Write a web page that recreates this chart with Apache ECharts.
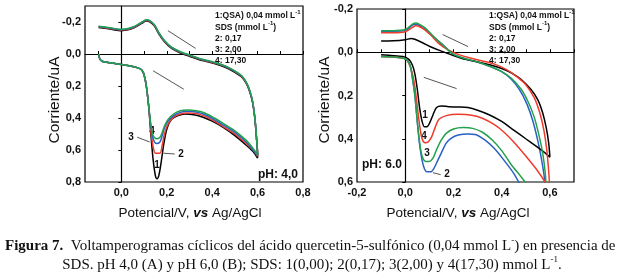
<!DOCTYPE html>
<html><head><meta charset="utf-8">
<script src="https://cdn.jsdelivr.net/npm/echarts@6/dist/echarts.min.js"></script>
<style>html,body{margin:0;padding:0;background:#fff}#c{width:625px;height:276px}</style>
</head><body><div id="c"></div>
<script>
// ---------- DATA (Potential V, Current uA) ----------
// Panel A, pH 4,0 : forward (lower) branches
const A_fwd_start = [[-0.1,0.0],[-0.095,0.03],[-0.085,0.045],[-0.05,0.055],[0.0,0.065],[0.04,0.075],[0.07,0.085],[0.09,0.10],[0.10,0.13],[0.11,0.2],[0.12,0.32]];
const A1_fwd = [[0.13,0.5],[0.14,0.66],[0.15,0.76],[0.157,0.78],[0.165,0.76],[0.175,0.68],[0.185,0.58],[0.2,0.47],[0.22,0.41],[0.25,0.385],[0.28,0.375],[0.32,0.38],[0.36,0.395],[0.40,0.42],[0.45,0.46],[0.50,0.51],[0.55,0.57],[0.58,0.61],[0.60,0.65]];
const A2_fwd = [[0.13,0.48],[0.14,0.58],[0.15,0.62],[0.17,0.62],[0.18,0.57],[0.19,0.5],[0.205,0.44],[0.23,0.395],[0.26,0.375],[0.29,0.368],[0.33,0.372],[0.37,0.39],[0.41,0.42],[0.45,0.455],[0.50,0.5],[0.55,0.56],[0.58,0.6],[0.60,0.64]];
const A3_fwd = [[0.13,0.45],[0.14,0.53],[0.155,0.56],[0.17,0.55],[0.18,0.51],[0.19,0.46],[0.205,0.42],[0.23,0.385],[0.26,0.365],[0.29,0.358],[0.33,0.362],[0.37,0.38],[0.41,0.41],[0.45,0.445],[0.5,0.49],[0.55,0.55],[0.58,0.6],[0.6,0.635]];
const A4_fwd = [[0.13,0.44],[0.14,0.51],[0.155,0.53],[0.17,0.52],[0.18,0.49],[0.19,0.45],[0.205,0.41],[0.23,0.375],[0.26,0.355],[0.29,0.35],[0.33,0.355],[0.37,0.37],[0.41,0.4],[0.45,0.435],[0.5,0.48],[0.55,0.54],[0.58,0.59],[0.6,0.63]];
// Panel A : reverse (upper) branch, common to the four curves
const A_rev = [[0.600,0.63],[0.595,0.52],[0.588,0.40],[0.578,0.30],[0.565,0.23],[0.55,0.18],[0.53,0.14],[0.50,0.11],[0.46,0.08],[0.42,0.06],[0.38,0.045],[0.34,0.03],[0.30,0.01],[0.26,-0.01],[0.22,-0.04],[0.19,-0.08],[0.165,-0.13],[0.145,-0.18],[0.125,-0.205],[0.11,-0.21],[0.09,-0.195],[0.06,-0.17],[0.03,-0.155],[0.0,-0.15],[-0.05,-0.16],[-0.1,-0.17]];

// Panel B, pH 6.0
const B1 = [[-0.1,0.012],[-0.06,0.015],[-0.01,0.02],[0.015,0.033],[0.03,0.06],[0.04,0.1],[0.05,0.17],[0.06,0.26],[0.07,0.32],[0.08,0.345],[0.09,0.345],[0.1,0.33],[0.115,0.29],[0.13,0.255],[0.15,0.248],[0.18,0.252],[0.22,0.253],[0.26,0.256],[0.3,0.268],[0.35,0.29],[0.4,0.32],[0.45,0.36],[0.5,0.4],[0.55,0.44],[0.58,0.465],[0.6,0.485],
  [0.595,0.42],[0.585,0.35],[0.57,0.28],[0.55,0.22],[0.52,0.17],[0.48,0.125],[0.44,0.095],[0.4,0.075],[0.35,0.058],[0.3,0.045],[0.25,0.033],[0.2,0.015],[0.15,-0.005],[0.1,-0.028],[0.07,-0.045],[0.04,-0.06],[0.025,-0.064],[0.0,-0.058],[-0.05,-0.053],[-0.1,-0.052]];
const B_red = [[-0.1,0.02],[-0.05,0.022],[0.0,0.03],[0.015,0.05],[0.03,0.1],[0.04,0.16],[0.05,0.25],[0.06,0.34],[0.07,0.4],[0.082,0.418],[0.095,0.415],[0.11,0.39],[0.125,0.345],[0.14,0.31],[0.17,0.293],[0.22,0.287],[0.27,0.29],[0.32,0.305],[0.37,0.335],[0.41,0.37],[0.45,0.415],[0.5,0.48],[0.55,0.55],[0.58,0.6],[0.6,0.64],
  [0.6,0.64],[0.595,0.55],[0.587,0.45],[0.575,0.36],[0.558,0.28],[0.535,0.21],[0.5,0.15],[0.46,0.11],[0.42,0.08],[0.37,0.055],[0.32,0.04],[0.27,0.027],[0.22,0.01],[0.18,-0.01],[0.14,-0.04],[0.11,-0.075],[0.08,-0.105],[0.06,-0.118],[0.044,-0.122],[0.03,-0.115],[0.0,-0.095],[-0.05,-0.09],[-0.1,-0.09]];
const B_green = [[-0.1,0.02],[-0.05,0.022],[0.0,0.03],[0.02,0.06],[0.03,0.12],[0.04,0.2],[0.05,0.32],[0.06,0.42],[0.07,0.48],[0.085,0.505],[0.1,0.505],[0.115,0.49],[0.13,0.45],[0.15,0.405],[0.17,0.375],[0.2,0.355],[0.24,0.348],[0.28,0.352],[0.32,0.37],[0.36,0.405],[0.4,0.455],[0.44,0.52],[0.48,0.575],[0.51,0.62],[0.53,0.66],
  [0.58,0.66],[0.583,0.6],[0.572,0.48],[0.556,0.39],[0.535,0.3],[0.51,0.23],[0.48,0.17],[0.44,0.12],[0.4,0.09],[0.35,0.065],[0.3,0.045],[0.25,0.03],[0.2,0.01],[0.16,-0.03],[0.12,-0.07],[0.09,-0.105],[0.065,-0.125],[0.045,-0.135],[0.03,-0.13],[0.0,-0.105],[-0.05,-0.1],[-0.1,-0.1]];
const B_blue = [[-0.1,0.02],[-0.05,0.022],[0.0,0.03],[0.02,0.06],[0.03,0.12],[0.04,0.2],[0.05,0.32],[0.06,0.43],[0.07,0.5],[0.08,0.54],[0.09,0.553],[0.105,0.553],[0.12,0.535],[0.135,0.5],[0.15,0.465],[0.17,0.42],[0.19,0.398],[0.22,0.383],[0.26,0.378],[0.29,0.38],[0.33,0.405],[0.37,0.445],[0.41,0.5],[0.45,0.56],[0.48,0.62],[0.5,0.66],
  [0.575,0.66],[0.578,0.6],[0.566,0.5],[0.55,0.41],[0.53,0.32],[0.505,0.24],[0.475,0.175],[0.44,0.125],[0.4,0.09],[0.35,0.065],[0.3,0.045],[0.25,0.03],[0.2,0.01],[0.16,-0.03],[0.12,-0.068],[0.09,-0.1],[0.065,-0.12],[0.045,-0.13],[0.03,-0.125],[0.0,-0.1],[-0.05,-0.097],[-0.1,-0.097]];

// tick labels
const A_xLabels = [0.0,0.2,0.4,0.6,0.8];
const A_xTicks = [-0.1,0.0,0.1,0.2,0.3,0.4,0.5,0.6,0.7,0.8];
const A_yLabels = [-0.2,0.0,0.2,0.4,0.6,0.8];
const B_xLabels = [-0.2,0.0,0.2,0.4,0.6];
const B_xTicks = [-0.2,-0.1,0.0,0.1,0.2,0.3,0.4,0.5,0.6,0.7];
const B_yLabels = [-0.2,0.0,0.2,0.4,0.6];

// arrows (data coords)
const A_arrows = [[[0.327,-0.035],[0.205,-0.146]],[[0.14,0.105],[0.275,0.22]],[[0.07,0.52],[0.125,0.55]],[[0.235,0.625],[0.185,0.62]]];
const B_arrows = [[[0.261,-0.026],[0.155,-0.082]],[[0.077,0.116],[0.213,0.168]],[[0.147,0.566],[0.115,0.557]]];

// ---------- CHART ----------
const SANS = 'Liberation Sans, Arial, sans-serif';
const SERIF = 'Liberation Serif, Times New Roman, serif';
const fmt = v => (Math.round(v*10)/10).toFixed(1).replace('.', ',');
const C = {k:'#000000', r:'#ee3b2b', b:'#2a5fc4', g:'#23a04e'};

function xAx(grid, min, max, labels, ticks){
  return {type:'value', gridIndex:grid, min, max,
    axisLine:{show:true, lineStyle:{color:'#000', width:1.2}},
    axisTick:{show:true, inside:true, length:3, customValues:ticks, lineStyle:{color:'#000'}},
    axisLabel:{customValues:labels, formatter:fmt, fontFamily:SANS, fontWeight:'bold', fontSize:11, color:'#111', margin:5},
    splitLine:{show:false}};
}
function yAx(grid, min, max, labels){
  return {type:'value', gridIndex:grid, min, max, inverse:true,
    axisLine:{show:true, lineStyle:{color:'#000', width:1.2}},
    axisTick:{show:true, inside:false, length:3, customValues:labels, lineStyle:{color:'#000'}},
    axisLabel:{customValues:labels, formatter:fmt, fontFamily:SANS, fontWeight:'bold', fontSize:11, color:'#111', margin:4},
    splitLine:{show:false}};
}
function ln(name, data, color, xi, extra){
  return Object.assign({name, type:'line', xAxisIndex:xi, yAxisIndex:xi, data, showSymbol:false, symbol:'none',
    smooth:0.3, clip:true, lineStyle:{color, width:1.5}, itemStyle:{color}, silent:true, animation:false}, extra||{});
}
function arrows(list, size){
  return {silent:true, animation:false, symbol:['none','arrow'], symbolSize:size, label:{show:false},
    lineStyle:{color:'#555', width:1, type:'solid'},
    data:list.map(a=>[{coord:a[0]},{coord:a[1]}])};
}

const txt = (x,y,text,opt)=>({type:'text', x, y, silent:true, style:Object.assign({text, fontFamily:SANS, fontWeight:'bold', fontSize:10, fill:'#111', align:'center', verticalAlign:'middle'}, opt||{})});
const legRich = {a:{fontFamily:SANS, fontWeight:'bold', fontSize:8.5, fill:'#111', lineHeight:11, verticalAlign:'bottom'},
                 s:{fontFamily:SANS, fontWeight:'bold', fontSize:6, fill:'#111', lineHeight:6, verticalAlign:'top'}};
function legend(x){
  const ys=[15,26.3,37.5,48.8,60];
  const lines=['{a|1:QSA) 0,04 mmol L}{s|-1}','{a|SDS (mmol L}{s|-1}{a|)}','{a|2: 0,17}','{a|3: 2,00}','{a|4: 17,30}'];
  return lines.map((t,i)=>({type:'text', x, y:ys[i], silent:true, style:{text:t, rich:legRich, align:'left', verticalAlign:'middle'}}));
}
const capRich = {b:{fontFamily:SERIF, fontWeight:'bold', fontSize:15, fill:'#111', lineHeight:18, verticalAlign:'bottom'},
                 r:{fontFamily:SERIF, fontSize:15, fill:'#111', lineHeight:18, verticalAlign:'bottom'},
                 s:{fontFamily:SERIF, fontSize:9, fill:'#111', lineHeight:10, verticalAlign:'top'}};
const xTitle = (x)=>({type:'text', x, y:213, silent:true, style:{text:'{n|Potencial/V, }{i|vs}{n| Ag/AgCl}', align:'center', verticalAlign:'middle',
   rich:{n:{fontFamily:SANS, fontSize:13.5, fill:'#111'}, i:{fontFamily:SANS, fontSize:13.5, fontWeight:'bold', fontStyle:'italic', fill:'#111'}}}});
const yTitle = (x)=>({type:'text', x, y:100, rotation:Math.PI/2, silent:true, style:{text:'Corriente/uA', fontFamily:SANS, fontSize:15.5, fill:'#111', align:'center', verticalAlign:'middle'}});

const chart = echarts.init(document.getElementById('c'), null, {renderer:'canvas'});
chart.setOption({
  animation:false,
  backgroundColor:'#fff',
  grid:[{left:85, top:6, width:218, height:176, show:true, borderColor:'#000', borderWidth:1.2, backgroundColor:'transparent'},
        {left:357, top:9, width:217, height:173, show:true, borderColor:'#000', borderWidth:1.2, backgroundColor:'transparent'}],
  xAxis:[xAx(0,-0.16,0.8,A_xLabels,A_xTicks), xAx(1,-0.2,0.7,B_xLabels,B_xTicks)],
  yAxis:[yAx(0,-0.3,0.8,A_yLabels), yAx(1,-0.2,0.6,B_yLabels)],
  series:[
    ln('A1', A_fwd_start.concat(A1_fwd, A_rev.map(p=>[p[0],p[1]+0.004])), C.k, 0, {markLine:arrows(A_arrows,[0,6])}),
    ln('A2', A_fwd_start.concat(A2_fwd, A_rev), C.r, 0),
    ln('A3', A_fwd_start.concat(A3_fwd, A_rev.map(p=>[p[0],p[1]-0.002])), C.b, 0),
    ln('A4', A_fwd_start.concat(A4_fwd, A_rev.map(p=>[p[0],p[1]-0.004])), C.g, 0),
    ln('B2', B_blue, C.b, 1),
    ln('B1', B1, C.k, 1, {markLine:arrows(B_arrows,[0,6])}),
    ln('B4', B_red, C.r, 1),
    ln('B3', B_green, C.g, 1)
  ],
  graphic:[
    ...legend(215), ...legend(489),
    xTitle(190), xTitle(458), yTitle(55), yTitle(325),
    txt(278,175,'pH: 4,0',{fontSize:12}),
    txt(362,165,'pH: 6.0',{fontSize:12, align:'left'}),
    txt(152,131,'4'), txt(131,137,'3'), txt(181,154,'2'), txt(157,165,'1'),
    txt(425,115,'1'), txt(424,136,'4'), txt(427,153,'3'), txt(447,174,'2'),
    {type:'text', x:5, y:245, silent:true, style:{text:'{b|Figura 7.}{r|  Voltamperogramas cíclicos del ácido quercetin-5-sulfónico (0,04 mmol L}{s|-}{r|) en presencia de}', rich:capRich, align:'left', verticalAlign:'middle'}},
    {type:'text', x:312, y:264, silent:true, style:{text:'{r|SDS. pH 4,0 (A) y pH 6,0 (B); SDS: 1(0,00); 2(0,17); 3(2,00) y 4(17,30) mmol L}{s|-1}{r|.}', rich:capRich, align:'center', verticalAlign:'middle'}}
  ]
});
</script></body></html>
